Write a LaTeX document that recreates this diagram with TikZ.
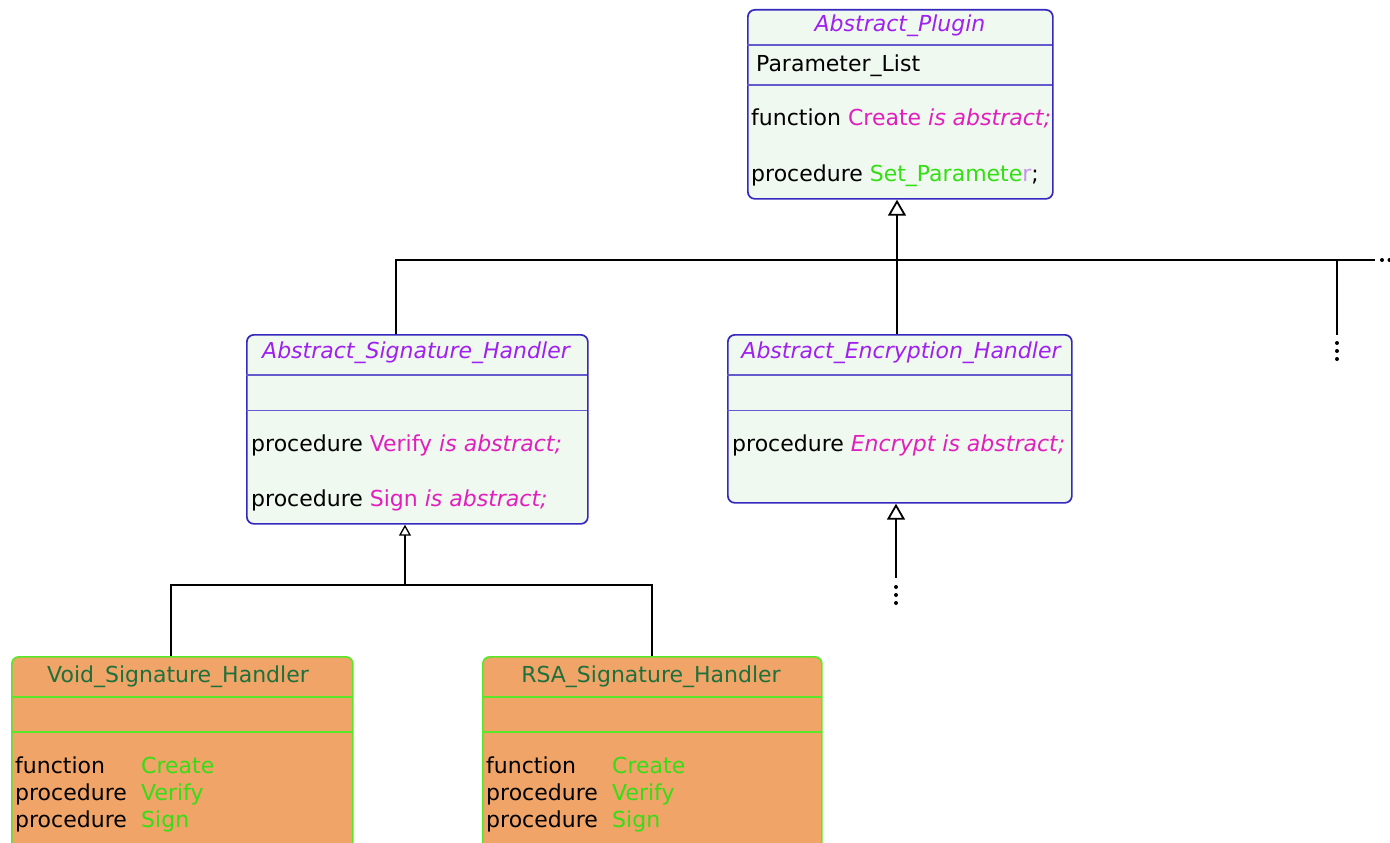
\documentclass[tikz,border=0pt]{standalone}
\usepackage{fontspec}
\setmainfont{DejaVu Sans}
\usetikzlibrary{arrows.meta}

\definecolor{absfill}{RGB}{239,249,239}
\definecolor{absedge}{RGB}{52,40,190}
\definecolor{abssep}{RGB}{100,90,205}
\definecolor{titlepurple}{RGB}{160,32,240}
\definecolor{opmagenta}{RGB}{226,30,190}
\definecolor{opgreen}{RGB}{52,222,20}
\definecolor{oplilac}{RGB}{200,150,232}
\definecolor{concfill}{RGB}{240,164,104}
\definecolor{concedge}{RGB}{88,232,40}
\definecolor{conctitle}{RGB}{30,112,60}

\newcommand\umlfont{\fontsize{22}{26}\selectfont}

\tikzset{
  absbox/.style={draw=absedge, fill=absfill, rounded corners=7pt, line width=1.7pt,
                 inner sep=0pt, anchor=north west},
  concbox/.style={draw=concedge, fill=concfill, rounded corners=7pt, line width=1.7pt,
                  inner sep=0pt, anchor=north west},
  abssepline/.style={draw=abssep, line width=1.2pt},
  concsepline/.style={draw=concedge, line width=1.2pt},
  abstitle/.style={font=\umlfont\itshape, text=titlepurple, anchor=base, inner sep=0pt},
  conctitlestyle/.style={font=\umlfont, text=conctitle, anchor=base, inner sep=0pt},
  member/.style={font=\umlfont, anchor=base west, inner sep=0pt},
  conn/.style={draw=black, line width=2.2pt},
  subconn/.style={draw=black, line width=1.6pt},
  bigtip/.style={-{Triangle[open, width=18pt, length=16pt, line width=1.8pt]}},
  smalltip/.style={-{Triangle[open, width=12pt, length=11pt, line width=1.3pt]}},
}

\begin{document}
\begin{tikzpicture}[x=1pt, y=-1pt]
\useasboundingbox (0,0) rectangle (1390,843);
\clip (0,0) rectangle (1390,843);
\fill[white] (0,0) rectangle (1390,843);

% ---- Abstract_Plugin ----
\node[absbox, minimum width=305pt, minimum height=189pt] (plugin) at (747,9) {};
\draw[abssepline] (747,45) -- (1052,45);
\draw[abssepline] (747,85) -- (1052,85);
\node[abstitle] (plugin-title) at (900,31.5) {Abstract\_Plugin};
\node[member] (plugin-attr) at (756,71.5) {Parameter\_List};
\node[member] (plugin-op1) at (751,125) {function \textcolor{opmagenta}{Create \textit{is abstract;}}};
\node[member] (plugin-op2) at (751,181.5) {procedure \textcolor{opgreen}{Set\_Paramete}\textcolor{oplilac}{r};};

% ---- Abstract_Signature_Handler ----
\node[absbox, minimum width=341pt, minimum height=189pt] (sig) at (246,334) {};
\draw[abssepline] (246,375) -- (587,375);
\draw[abssepline] (246,410.5) -- (587,410.5);
\node[abstitle] (sig-title) at (416,358) {Abstract\_Signature\_Handler};
\node[member] (sig-op1) at (251,451) {procedure \textcolor{opmagenta}{Verify \textit{is abstract;}}};
\node[member] (sig-op2) at (251,506) {procedure \textcolor{opmagenta}{Sign \textit{is abstract;}}};

% ---- Abstract_Encryption_Handler ----
\node[absbox, minimum width=344pt, minimum height=168pt] (enc) at (727,334) {};
\draw[abssepline] (727,375) -- (1071,375);
\draw[abssepline] (727,410.5) -- (1071,410.5);
\node[abstitle] (enc-title) at (901,358) {Abstract\_Encryption\_Handler};
\node[member] (enc-op1) at (732,451) {procedure \textcolor{opmagenta}{\textit{Encrypt is abstract;}}};

% ---- Void_Signature_Handler ----
\node[concbox, minimum width=341pt, minimum height=210pt] (void) at (11,656) {};
\draw[concsepline] (11,697) -- (352,697);
\draw[concsepline] (11,732) -- (352,732);
\node[conctitlestyle] (void-title) at (178,682) {Void\_Signature\_Handler};
\node[member] (void-k1) at (15,773) {function};
\node[member] (void-k2) at (15,800) {procedure};
\node[member] (void-k3) at (15,827) {procedure};
\node[member, text=opgreen] (void-n1) at (141,773) {Create};
\node[member, text=opgreen] (void-n2) at (141,800) {Verify};
\node[member, text=opgreen] (void-n3) at (141,827) {Sign};

% ---- RSA_Signature_Handler ----
\node[concbox, minimum width=339pt, minimum height=210pt] (rsa) at (482,656) {};
\draw[concsepline] (482,697) -- (821,697);
\draw[concsepline] (482,732) -- (821,732);
\node[conctitlestyle] (rsa-title) at (651,682) {RSA\_Signature\_Handler};
\node[member] (rsa-k1) at (486,773) {function};
\node[member] (rsa-k2) at (486,800) {procedure};
\node[member] (rsa-k3) at (486,827) {procedure};
\node[member, text=opgreen] (rsa-n1) at (612,773) {Create};
\node[member, text=opgreen] (rsa-n2) at (612,800) {Verify};
\node[member, text=opgreen] (rsa-n3) at (612,827) {Sign};

% ---- generalisation tree under Abstract_Plugin ----
\coordinate (bus-l) at (396,260);
\coordinate (bus-c) at (897,260);
\coordinate (bus-x) at (1337,260);
\coordinate (bus-r) at (1375,260);
\coordinate (more-top) at (1337,335);
\draw[conn] (sig.north -| bus-l) -- (bus-l) -- (bus-r);
\draw[conn, bigtip] (bus-c) -- (plugin.south -| bus-c);
\draw[conn] (bus-c) -- (enc.north -| bus-c);
\draw[conn] (bus-x) -- (more-top);
\fill (1382,260) circle (2pt) (1389.5,260) circle (2pt);
\fill (1337,343) circle (2pt) (1337,351) circle (2pt) (1337,359) circle (2pt);

% ---- subclasses of Abstract_Encryption_Handler (elided) ----
\coordinate (enc-sub) at (896,578);
\draw[conn, bigtip] (enc-sub) -- (enc.south -| enc-sub);
\fill (896,587) circle (2pt) (896,595) circle (2pt) (896,603) circle (2pt);

% ---- subclasses of Abstract_Signature_Handler ----
\coordinate (sub-c) at (405,585);
\coordinate (sub-l) at (171,585);
\coordinate (sub-r) at (652,585);
\draw[subconn, smalltip] (sub-c) -- (sig.south -| sub-c);
\draw[subconn] (void.north -| sub-l) -- (sub-l) -- (sub-r) -- (rsa.north -| sub-r);
\end{tikzpicture}
\end{document}
